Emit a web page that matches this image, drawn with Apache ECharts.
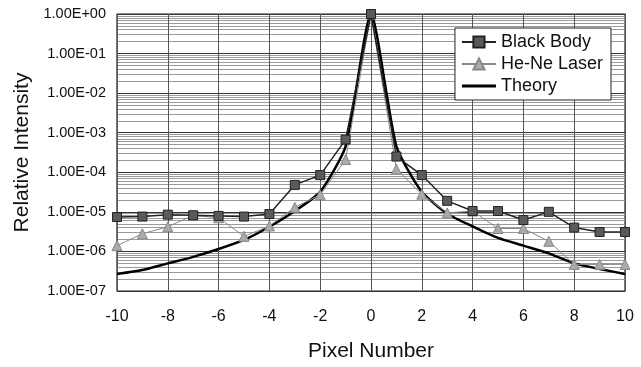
<!DOCTYPE html>
<html>
<head>
<meta charset="utf-8">
<script src="https://cdn.jsdelivr.net/npm/echarts@6/dist/echarts.min.js"></script>
<style>
  html, body { margin: 0; padding: 0; background: #fff; }
  #chart { width: 641px; height: 367px; }
</style>
</head>
<body>
<div id="chart"></div>
<script>
// pixel positions (x axis)
const pixelNumbers = [-10, -9, -8, -7, -6, -5, -4, -3, -2, -1, 0, 1, 2, 3, 4, 5, 6, 7, 8, 9, 10]

const blackBody = [7.4e-6, 7.6e-6, 8.5e-6, 8.2e-6, 7.9e-6, 7.6e-6, 8.8e-6, 4.8e-5, 8.5e-5, 6.7e-4, 1.0,
  2.5e-4, 8.5e-5, 1.9e-5, 1.05e-5, 1.05e-5, 6.2e-6, 1.0e-5, 4.0e-6, 3.1e-6, 3.1e-6]
const heNeLaser = [1.4e-6, 2.8e-6, 4.2e-6, 8.1e-6, 7.1e-6, 2.4e-6, 4.4e-6, 1.3e-5, 2.7e-5, 2.1e-4, 1.0,
  1.2e-4, 2.8e-5, 9.4e-6, 1.05e-5, 3.8e-6, 3.8e-6, 1.8e-6, 4.7e-7, 4.7e-7, 4.7e-7]
const theory = [2.7e-7, 3.4e-7, 5.0e-7, 7.3e-7, 1.15e-6, 1.95e-6, 4.2e-6, 1.05e-5, 3.2e-5, 4.5e-4, 1.0,
  4.5e-4, 3.2e-5, 9.0e-6, 4.3e-6, 2.2e-6, 1.4e-6, 8.9e-7, 5.0e-7, 3.6e-7, 2.7e-7]

const seriesNames = ['Black Body', 'He-Ne Laser', 'Theory']

const pairs = (ys) => pixelNumbers.map((x, i) => [x, ys[i]])

// 1.00E-05 style labels
const sciLabel = (v) => {
  const exp = Math.round(Math.log10(v))
  const mant = v / Math.pow(10, exp)
  const sign = exp < 0 ? '-' : '+'
  return mant.toFixed(2) + 'E' + sign + String(Math.abs(exp)).padStart(2, '0')
}

const font = 'Liberation Sans, Arial, sans-serif'
const chart = echarts.init(document.getElementById('chart'))

chart.setOption({
  animation: false,
  textStyle: { fontFamily: font },
  grid: { left: 117, right: 16, top: 14, bottom: 73, show: true, borderColor: '#222', borderWidth: 1.2 },
  legend: {
    // theory has no marker, so its legend is a plain thick bar
    data: [
      seriesNames[0],
      seriesNames[1],
      { name: seriesNames[2], icon: 'path://M0,0 L34,0 L34,3 L0,3 Z' }
    ],
    orient: 'vertical',
    right: 30,
    top: 28,
    backgroundColor: '#fff',
    borderColor: '#222',
    borderWidth: 1,
    padding: [5, 8, 5, 6],
    itemGap: 4,
    itemWidth: 34,
    itemHeight: 14,
    textStyle: { fontSize: 18, color: '#111', fontFamily: font }
  },
  xAxis: {
    type: 'value',
    min: -10,
    max: 10,
    interval: 2,
    name: 'Pixel Number',
    nameLocation: 'middle',
    nameGap: 50,
    nameTextStyle: { fontSize: 21, color: '#111' },
    axisLine: { show: false },
    axisTick: { show: false },
    axisLabel: { fontSize: 16, color: '#111', margin: 18, formatter: (v) => String(v) },
    splitLine: { show: true, lineStyle: { color: '#555', width: 1 } }
  },
  yAxis: {
    type: 'log',
    logBase: 10,
    min: 1e-7,
    max: 1,
    name: 'Relative Intensity',
    nameLocation: 'middle',
    nameGap: 80,
    nameTextStyle: { fontSize: 21, color: '#111' },
    axisLine: { show: false },
    axisTick: { show: false },
    axisLabel: { fontSize: 14.5, color: '#111', margin: 11, formatter: sciLabel },
    splitLine: { show: true, lineStyle: { color: '#333', width: 1 } },
    minorTick: { show: false, splitNumber: 9 },
    minorSplitLine: { show: true, lineStyle: { color: '#9a9a9a', width: 1 } }
  },
  series: [
    {
      name: seriesNames[0],
      type: 'line',
      data: pairs(blackBody),
      symbol: 'rect',
      symbolSize: 9,
      z: 4,
      lineStyle: { color: '#222', width: 1.5 },
      itemStyle: { color: '#5a5a5a', borderColor: '#222', borderWidth: 1 }
    },
    {
      name: seriesNames[1],
      type: 'line',
      data: pairs(heNeLaser),
      symbol: 'triangle',
      symbolSize: 10,
      z: 3,
      lineStyle: { color: '#888', width: 1 },
      itemStyle: { color: '#aaa', borderColor: '#888', borderWidth: 1 }
    },
    {
      name: seriesNames[2],
      type: 'line',
      data: pairs(theory),
      symbol: 'none',
      smooth: 0.2,
      z: 2,
      lineStyle: { color: '#000', width: 2.5 },
      itemStyle: { color: '#000' }
    }
  ]
})
</script>
</body>
</html>
